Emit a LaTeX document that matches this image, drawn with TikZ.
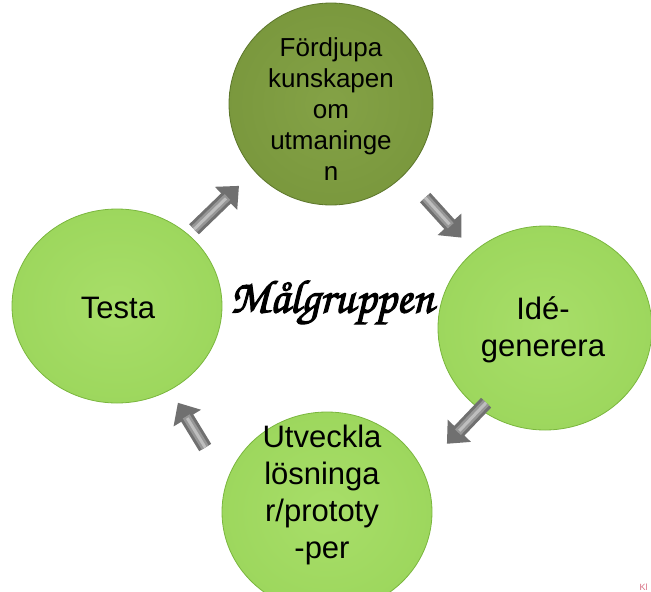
\documentclass[tikz,border=0pt]{standalone}
\usepackage[T1]{fontenc}
\usepackage{fontspec}
\setmainfont{Liberation Sans}
\usetikzlibrary{shapes.geometric, arrows.meta, calc}
\definecolor{leaflight}{RGB}{168,222,105}
\definecolor{leafgreen}{RGB}{152,212,88}
\definecolor{leafdark}{RGB}{122,182,62}
\definecolor{olivelight}{RGB}{132,162,70}
\definecolor{olivegreen}{RGB}{118,148,58}
\definecolor{olivedark}{RGB}{92,118,42}
\definecolor{arrowgray}{RGB}{112,112,112}
\definecolor{arrowmid}{RGB}{150,150,150}
\definecolor{arrowshine}{RGB}{190,190,190}
\definecolor{klpink}{RGB}{215,110,130}
\pgfdeclareradialshading{leafball}{\pgfpoint{0bp}{0bp}}{color(0bp)=(leaflight); color(36bp)=(leafgreen); color(50bp)=(leafdark)}
\pgfdeclareradialshading{oliveball}{\pgfpoint{0bp}{0bp}}{color(0bp)=(olivelight); color(36bp)=(olivegreen); color(50bp)=(olivedark)}
\newcommand{\bigtext}{\fontsize{31}{37}\selectfont}
\newcommand{\smalltext}{\fontsize{26}{31}\selectfont}
\newcommand{\handfont}{\fontencoding{T1}\fontfamily{pzc}\fontseries{mb}\fontshape{it}\selectfont}
\newcommand{\heavyink}[1]{\special{pdf:literal 2 Tr 1.1 w}#1\special{pdf:literal 0 Tr 0.4 w}}
\tikzset{disc/.style={ellipse, minimum width=210pt, minimum height=194pt, inner sep=0pt, shading=leafball, draw=leafdark, line width=0.8pt}}
\tikzset{disctext/.style={align=center, inner sep=0pt, text=black}}
\tikzset{cyclearrow/.style={line width=14pt, draw=arrowgray, -{Triangle[length=18pt, width=31pt]},
    preaction={}, postaction={draw=arrowmid, line width=8pt, shorten >=16pt, -},
    postaction={draw=arrowshine, line width=3pt, shorten >=18pt, -}}}

\begin{document}
\begin{tikzpicture}[x=1pt, y=-1pt]
    \useasboundingbox (0,0) rectangle (651,592);
    %circles
    \node (fordjupa) [disc, shading=oliveball, draw=olivedark, minimum width=204pt, minimum height=202pt] at (331,104) {};
    \node (ide) [disc, minimum width=214pt, minimum height=204pt] at (545,328) {};
    \node (utveckla) [disc, minimum height=200pt] at (327,512) {};
    \node (testa) [disc] at (117,306) {};

    %texts
    \node (fordjupatext) [disctext, font=\smalltext] at (331,109) {Fördjupa\\kunskapen\\om\\utmaninge\\n};
    \node (idetext) [disctext, font=\bigtext] at (543,330) {Idé-\\generera};
    \node (utvecklatext) [disctext, font=\bigtext] at (322,495) {Utveckla\\lösninga\\r/prototy\\-per};
    \node (testatext) [disctext, font=\bigtext] at (118,308) {Testa};
    \node (malgrupp) [font=\handfont\fontsize{47}{52}\selectfont] at (332,303) {\heavyink{M\r{a}lgruppen}};
    \node (kl) [font=\fontsize{9}{10}\selectfont, text=klpink, anchor=base west] at (636,590) {Kl};

    %arrows
    \draw [cyclearrow] ($(testa)!0.36!(fordjupa)+(0,-4)$) -- ($(testa)!0.57!(fordjupa)+(0,-5)$);
    \draw [cyclearrow] ($(fordjupa)!0.44!(ide)+(0,-5)$) -- ($(fordjupa)!0.61!(ide)+(0,-3)$);
    \draw [cyclearrow] ($(ide)!0.27!(utveckla)+(0,25)$) -- ($(ide)!0.45!(utveckla)+(0,33)$);
    \draw [cyclearrow] ($(utveckla)!0.58!(testa)+(0,55)$) -- ($(utveckla)!0.71!(testa)+(0,37)$);
\end{tikzpicture}
\end{document}
